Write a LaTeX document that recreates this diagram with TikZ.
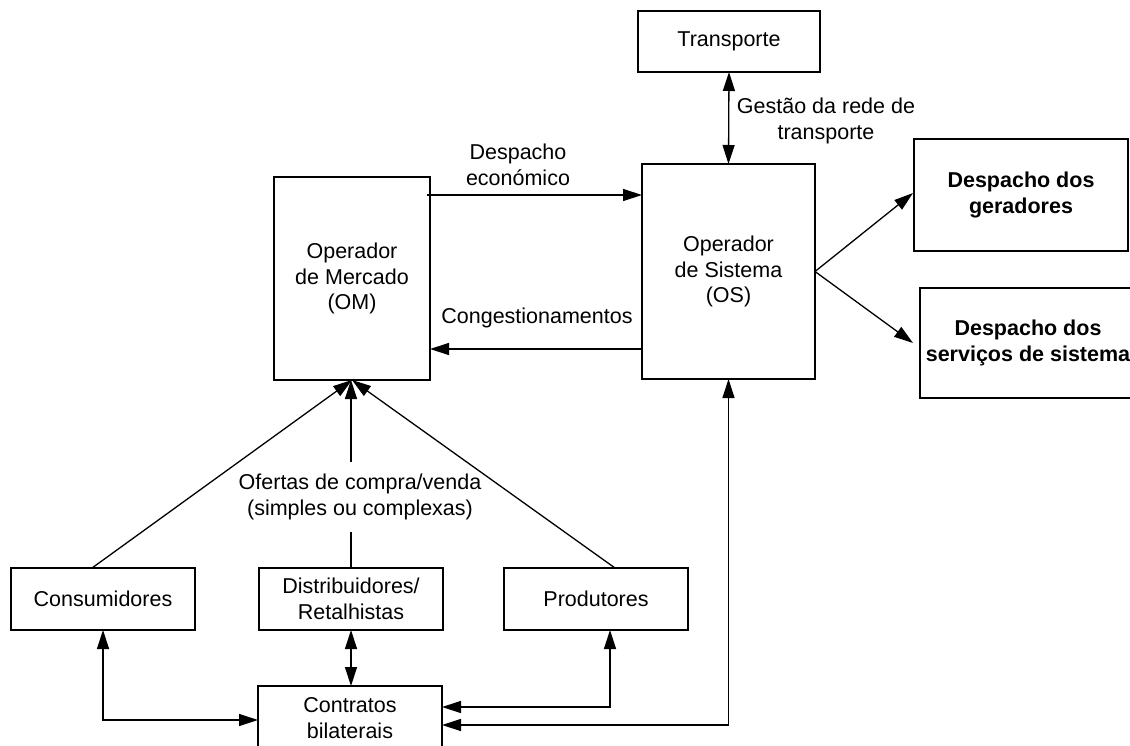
\documentclass[tikz,border=0pt]{standalone}
\usepackage{fontspec}
\setmainfont{Liberation Sans}
\usetikzlibrary{arrows.meta}
\begin{document}
\begin{tikzpicture}[x=1pt,y=-1pt,
  every node/.style={font=\fontsize{21.5}{25.5}\selectfont, align=center, inner sep=0pt},
  box/.style={draw, line width=1.3pt, minimum width=#1, outer sep=0pt},
  lbl/.style={text=black},
  arr/.style={line width=1.3pt, -{Triangle[length=19pt,width=12pt]}},
  darr/.style={line width=1.3pt, {Triangle[length=19pt,width=12pt]}-{Triangle[length=19pt,width=12pt]}},
  plain/.style={line width=1.3pt}]
\useasboundingbox (0,0) rectangle (1130,745);
% boxes
\node[box=182pt, minimum height=61pt] (trans) at (729,41.5) {Transporte};
\node[box=173pt, minimum height=215pt] (os) at (728.5,271.5) {Operador\\de Sistema\\(OS)};
\node[box=156pt, minimum height=203pt] (om) at (352,278.5) {Operador\\de Mercado\\(OM)};
\node[box=214pt, minimum height=112pt] (ger) at (1021,195) {\bfseries Despacho dos\\\bfseries geradores};
\node[box=216pt, minimum height=110pt] (serv) at (1028,343) {\bfseries Despacho dos\\\bfseries serviços de sistema};
\node[box=184pt, minimum height=62pt] (cons) at (103,599) {Consumidores};
\node[box=184pt, minimum height=62pt] (dist) at (351,599) {Distribuidores/\\Retalhistas};
\node[box=184pt, minimum height=62pt] (prod) at (596,599) {Produtores};
\node[box=184pt, minimum height=64pt] (contr) at (350,718) {Contratos\\bilaterais};
% labels
\node (gestao) at (826,121) {Gestão da rede de\\transporte};
\node (desp) at (518,165) {Despacho\\económico};
\node (cong) at (537,318) {Congestionamentos};
\node[inner ysep=12pt] (ofertas) at (360,497) {Ofertas de compra/venda\\(simples ou complexas)};
% coordinates
\coordinate (yecon) at (0,195);
\coordinate (ycong) at (0,349);
% connectors
\draw[darr] (trans.south) -- (os.north);
\draw[arr] ([xshift=-3pt]om.east |- yecon) -- (os.west |- yecon);
\draw[arr] (os.west |- ycong) -- (om.east |- ycong);
\draw[arr] (os.east) -- ([xshift=-1pt,yshift=2pt]ger.west);
\draw[arr] (os.east) -- ([xshift=-7pt]serv.west);
\draw[arr] ([xshift=-11pt]cons.north) -- (om.south);
\draw[plain] (dist.north) -- (dist.north |- ofertas.south);
\draw[arr] (dist.north |- ofertas.north) -- (dist.north |- om.south);
\draw[arr] ([xshift=19pt]prod.north) -- (om.south);
\draw[darr] (cons.south) |- ([yshift=-2pt]contr.west);
\draw[darr] (dist.south) -- (dist.south |- contr.north);
\draw[darr] ([xshift=14pt]prod.south) |- ([yshift=11pt]contr.east);
\draw[darr] (os.south) |- ([yshift=-7pt]contr.east);
\end{tikzpicture}
\end{document}
